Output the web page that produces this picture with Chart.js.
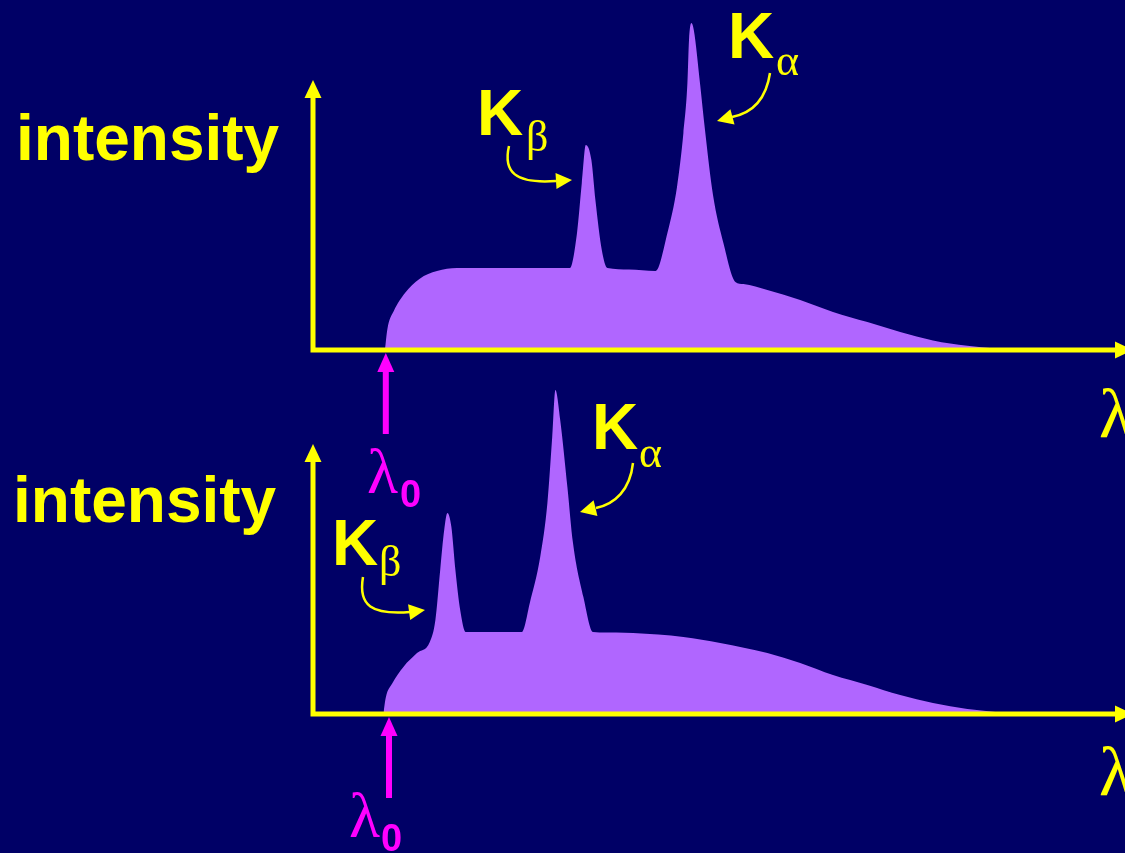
<!DOCTYPE html>
<html>
<head>
<meta charset="utf-8">
<script src="https://cdn.jsdelivr.net/npm/chart.js@4"></script>
<style>
html, body { margin: 0; padding: 0; background: #000066; overflow: hidden; }
#wrap { position: relative; width: 1125px; height: 853px; }
canvas { position: absolute; left: 0; top: 0; }
</style>
</head>
<body>
<div id="wrap">
  <canvas id="topChart" width="1125" height="853"></canvas>
  <canvas id="bottomChart" width="1125" height="853"></canvas>
</div>
<script>
// wavelength / intensity in arbitrary units
const topWavelength = [9.0, 9.3, 10.1, 11.5, 13.3, 15.5, 18.0, 25.0, 32.1,
  33.0, 33.6, 34.1, 34.8, 35.3, 36.1, 36.8, 39.5, 42.8,
  44.3, 45.5, 46.3, 46.8, 47.0, 47.3, 47.6, 48.4, 49.0, 50.0, 51.3, 52.8,
  53.8, 56.8, 60.9, 65.0, 69.3, 73.4, 77.5, 81.8, 85.3];
const topIntensity = [0, 7.0, 13.0, 19.0, 23.7, 26.3, 27.3, 27.3, 27.3,
  39.0, 55.7, 68.3, 63.3, 50.0, 33.3, 27.3, 26.8, 26.3,
  39.0, 54.3, 72.3, 89.0, 103.3, 109.0, 106.7, 88.3, 73.3, 51.7, 35.7, 22.7,
  22.0, 20.0, 16.7, 12.7, 9.3, 6.0, 3.2, 1.4, 0.5];

const bottomWavelength = [8.8, 9.1, 9.9, 11.3, 13.0, 14.6,
  15.3, 15.9, 16.4, 16.8, 17.3, 17.8, 18.4, 19.1, 22.5, 26.1,
  27.1, 28.4, 29.3, 29.9, 30.3, 30.9, 31.8, 32.5, 33.8, 35.0,
  35.8, 40.0, 46.3, 50.9, 56.8, 60.9, 65.0, 69.3, 73.4, 77.5, 81.8, 85.3];
const bottomIntensity = [0, 5.5, 10.2, 15.7, 20.3, 24.0,
  31.3, 48.0, 61.3, 67.0, 62.3, 48.0, 34.7, 27.3, 27.3, 27.3,
  37.0, 52.3, 70.3, 92.3, 108.0, 98.0, 75.7, 57.0, 39.0, 27.3,
  27.2, 27.0, 25.7, 23.7, 20.3, 17.0, 13.0, 9.7, 6.3, 3.7, 1.7, 0.7];

// short-wavelength cutoff for each spectrum
const lambda0 = [9.1, 9.5];

const YELLOW = '#ffff00';
const MAGENTA = '#ff00ff';
const PURPLE = '#b066ff';

function arrowHead(ctx, tipX, tipY, fromX, fromY, len, half) {
  const a = Math.atan2(tipY - fromY, tipX - fromX);
  const bx = tipX - len * Math.cos(a), by = tipY - len * Math.sin(a);
  ctx.beginPath();
  ctx.moveTo(tipX, tipY);
  ctx.lineTo(bx + half * Math.sin(a), by - half * Math.cos(a));
  ctx.lineTo(bx - half * Math.sin(a), by + half * Math.cos(a));
  ctx.closePath();
  ctx.fill();
}

function text(ctx, str, x, y, font, color) {
  ctx.font = font;
  ctx.fillStyle = color;
  ctx.fillText(str, x, y);
}

// draws the arrowed axes, λ0 marker and the labels
const slidePlugin = {
  id: 'slide',
  afterDraw(chart, args, opts) {
    const ctx = chart.ctx;
    const xs = chart.scales.x, ys = chart.scales.y;
    const x0 = xs.getPixelForValue(0), y0 = ys.getPixelForValue(0);
    const yTop = ys.getPixelForValue(90);
    const xEnd = xs.getPixelForValue(102.5);
    ctx.save();
    ctx.textBaseline = 'alphabetic';
    ctx.textAlign = 'left';

    // axes
    ctx.strokeStyle = YELLOW;
    ctx.fillStyle = YELLOW;
    ctx.lineWidth = 5;
    ctx.beginPath();
    ctx.moveTo(x0, yTop + 15);
    ctx.lineTo(x0, y0);
    ctx.lineTo(xEnd - 15, y0);
    ctx.stroke();
    arrowHead(ctx, x0, yTop, x0, yTop + 10, 18, 8.5);
    arrowHead(ctx, xEnd, y0, xEnd - 10, y0, 18, 8.5);

    // λ0 arrow
    const lx = xs.getPixelForValue(opts.lambda0);
    ctx.fillStyle = MAGENTA;
    ctx.fillRect(lx - 3, y0 + 20, 6, 64);
    arrowHead(ctx, lx, y0 + 3, lx, y0 + 20, 19, 8.5);

    const t = opts.labels;
    text(ctx, 'intensity', t.intensity[0], t.intensity[1], 'bold 64px "Liberation Sans", Arial, sans-serif', YELLOW);
    text(ctx, 'K', t.kb[0], t.kb[1], 'bold 64px "Liberation Sans", Arial, sans-serif', YELLOW);
    text(ctx, 'β', t.beta[0], t.beta[1], '44px "Liberation Serif", serif', YELLOW);
    text(ctx, 'K', t.ka[0], t.ka[1], 'bold 64px "Liberation Sans", Arial, sans-serif', YELLOW);
    text(ctx, 'α', t.alpha[0], t.alpha[1], '44px "Liberation Serif", serif', YELLOW);
    text(ctx, 'λ', t.lambda[0], t.lambda[1], '70px "Liberation Serif", serif', YELLOW);
    text(ctx, 'λ', t.l0[0], t.l0[1], '64px "Liberation Serif", serif', MAGENTA);
    text(ctx, '0', t.zero[0], t.zero[1], 'bold 38px "Liberation Sans", Arial, sans-serif', MAGENTA);

    // curved pointers to the lines
    ctx.strokeStyle = YELLOW;
    ctx.fillStyle = YELLOW;
    ctx.lineWidth = 2.5;
    for (const p of opts.pointers) {
      ctx.beginPath();
      ctx.moveTo(p[0], p[1]);
      ctx.bezierCurveTo(p[2], p[3], p[4], p[5], p[6], p[7]);
      ctx.stroke();
      arrowHead(ctx, p[8], p[9], p[6], p[7], 16, 8);
    }
    ctx.restore();
  }
};

function makeChart(id, xs, ys, padding, opts) {
  return new Chart(document.getElementById(id), {
    type: 'line',
    data: {
      datasets: [{
        data: xs.map((x, i) => ({ x, y: ys[i] })),
        borderWidth: 0,
        borderColor: PURPLE,
        backgroundColor: PURPLE,
        fill: 'origin',
        pointRadius: 0,
        cubicInterpolationMode: 'monotone'
      }]
    },
    options: {
      responsive: false,
      animation: false,
      events: [],
      layout: { padding },
      scales: {
        x: { type: 'linear', min: 0, max: 100, display: false },
        y: { min: 0, max: 110, display: false }
      },
      plugins: { legend: { display: false }, tooltip: { enabled: false }, slide: opts }
    },
    plugins: [slidePlugin]
  });
}

makeChart('topChart', topWavelength, topIntensity,
  { left: 313, right: 12, top: 20, bottom: 503 },
  {
    lambda0: lambda0[0],
    labels: {
      intensity: [16, 160], kb: [477, 135], beta: [526, 151], ka: [728, 58], alpha: [776, 75],
      lambda: [1099, 437], l0: [367, 493], zero: [400, 507]
    },
    pointers: [
      [509, 146, 503, 172, 515, 184, 556, 181, 572, 180],
      [770, 73, 766, 100, 752, 113, 732, 117, 717, 121]
    ]
  });

makeChart('bottomChart', bottomWavelength, bottomIntensity,
  { left: 313, right: 12, top: 384, bottom: 139 },
  {
    lambda0: lambda0[1],
    labels: {
      intensity: [13, 522], kb: [332, 565], beta: [379, 576], ka: [592, 449], alpha: [639, 467],
      lambda: [1099, 795], l0: [349, 837], zero: [381, 851]
    },
    pointers: [
      [363, 577, 358, 606, 372, 615, 410, 612, 425, 610],
      [633, 463, 630, 490, 615, 504, 596, 508, 580, 512]
    ]
  });
</script>
</body>
</html>
